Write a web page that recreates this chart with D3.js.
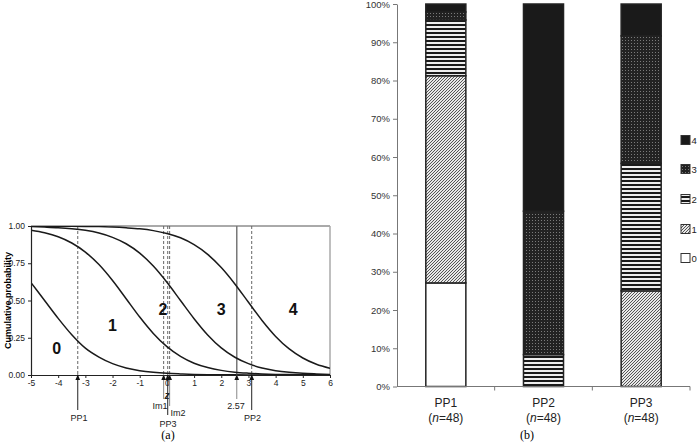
<!DOCTYPE html>
<html><head><meta charset="utf-8">
<script src="https://cdn.jsdelivr.net/npm/d3@7"></script>
<style>
body{margin:0;background:#fff;}
svg{display:block;font-family:"Liberation Sans",Arial,sans-serif;}
</style></head>
<body>
<svg id="c" width="697" height="444"></svg>
<script>
// ---------- Panel (a) data ----------
const zGrid = [-5,-4.5,-4,-3.5,-3,-2.5,-2,-1.5,-1,-0.5,0,0.5,1,1.5,2,2.5,3,3.5,4,4.5,5,5.5,6];
const curve0 = [0.62,0.50,0.38,0.27,0.18,0.12,0.076,0.047,0.029,0.018,0.011,0.007,0.004,0.0025,0.0015,0.001,0.0006,0.0004,0.0002,0.0001,0.0001,0,0];
const curve1 = [0.972,0.955,0.928,0.886,0.825,0.741,0.634,0.512,0.389,0.279,0.190,0.125,0.079,0.050,0.031,0.019,0.012,0.007,0.004,0.003,0.002,0.001,0.001];
const curve2 = [0.996,0.993,0.989,0.982,0.971,0.953,0.924,0.881,0.818,0.731,0.622,0.500,0.378,0.269,0.182,0.119,0.076,0.047,0.029,0.018,0.011,0.007,0.004];
const curve3 = [1.0,0.999,0.999,0.998,0.997,0.996,0.993,0.988,0.981,0.969,0.950,0.921,0.875,0.810,0.721,0.611,0.488,0.366,0.259,0.175,0.114,0.072,0.045];
const xTicksA = [-5,-4,-3,-2,-1,0,1,2,3,4,5,6];
const yTicksA = [0,0.25,0.5,0.75,1];
const regionLabels = ["0","1","2","3","4"];
const regionZ = [-4.05,-2.0,-0.15,2.0,4.65];
const regionP = [0.18,0.33,0.44,0.44,0.44];
const markNames = ["PP1","Im1","PP3","Im2","2.57","PP2"];
const markZ = [-3.28,-0.12,0.03,0.10,2.57,3.12];

// ---------- Panel (b) data ----------
const groups = ["PP1","PP2","PP3"];
const groupN = [48,48,48];
const levels = ["0","1","2","3","4"];
const pct0 = [27.08,0,0];
const pct1 = [54.17,0,25.00];
const pct2 = [14.58,8.33,33.33];
const pct3 = [2.08,37.50,33.33];
const pct4 = [2.08,54.17,8.33];
const yTicksB = [0,10,20,30,40,50,60,70,80,90,100];

const svg = d3.select("#c");
const defs = svg.append("defs");

// patterns
const pHatch = defs.append("pattern").attr("id","p1").attr("patternUnits","userSpaceOnUse").attr("width",3).attr("height",3);
pHatch.append("rect").attr("width",3).attr("height",3).attr("fill","#e8e8e8");
pHatch.append("path").attr("d","M-1,1 L1,-1 M0,3 L3,0 M2,4 L4,2").attr("stroke","#444").attr("stroke-width",0.9);
const pStripe = defs.append("pattern").attr("id","p2").attr("patternUnits","userSpaceOnUse").attr("width",4).attr("height",4);
pStripe.append("rect").attr("width",4).attr("height",4).attr("fill","#eeeeee");
pStripe.append("rect").attr("width",4).attr("height",2).attr("fill","#1a1a1a");
const pDots = defs.append("pattern").attr("id","p3").attr("patternUnits","userSpaceOnUse").attr("width",3).attr("height",3);
pDots.append("rect").attr("width",3).attr("height",3).attr("fill","#222");
pDots.append("rect").attr("x",1).attr("y",1).attr("width",1).attr("height",1).attr("fill","#7a7a7a");
const fills = ["#ffffff","url(#p1)","url(#p2)","url(#p3)","#1a1a1a"];

defs.append("marker").attr("id","arr").attr("viewBox","0 0 6 7").attr("refX",3).attr("refY",0)
  .attr("markerWidth",5).attr("markerHeight",6).attr("orient","0").attr("markerUnits","userSpaceOnUse")
  .append("path").attr("d","M0,7 L3,0 L6,7 Z").attr("fill","#111");

// ================= Panel (a) =================
const xA = d3.scaleLinear().domain([-5,6]).range([31,330]);
const yA = d3.scaleLinear().domain([0,1]).range([375,226]);
const gA = svg.append("g");

defs.append("clipPath").attr("id","clipA").append("rect")
  .attr("x",xA(-5)).attr("y",yA(1)).attr("width",xA(6)-xA(-5)).attr("height",yA(0)-yA(1));

// border
gA.append("line").attr("x1",xA(-5)).attr("x2",xA(6)).attr("y1",yA(1)).attr("y2",yA(1)).attr("stroke","#555").attr("stroke-width",1);
gA.append("line").attr("x1",xA(6)).attr("x2",xA(6)).attr("y1",yA(1)).attr("y2",yA(0)).attr("stroke","#aaa").attr("stroke-width",1.5);

// vertical lines
markNames.forEach((n,i)=>{
  const solid = n==="2.57";
  gA.append("line").attr("x1",xA(markZ[i])).attr("x2",xA(markZ[i]))
    .attr("y1",yA(1)).attr("y2",yA(0))
    .attr("stroke", solid?"#777":"#666").attr("stroke-width", solid?1.5:1)
    .attr("stroke-dasharray", solid?null:"3,2");
});

// curves
const lineA = d3.line().x((d,i)=>xA(zGrid[i])).y(d=>yA(d)).curve(d3.curveMonotoneX);
[curve0,curve1,curve2,curve3].forEach(c=>{
  gA.append("path").datum(c).attr("d",lineA).attr("fill","none")
    .attr("stroke","#1a1a1a").attr("stroke-width",1.5).attr("clip-path","url(#clipA)");
});

// axes
const axL = gA.append("g").attr("transform",`translate(${xA(-5)},0)`)
  .call(d3.axisLeft(yA).tickValues(yTicksA).tickFormat(d3.format(".2f")).tickSize(3).tickSizeOuter(0));
axL.selectAll("text").attr("font-size",8.5).attr("fill","#222");
const axB = gA.append("g").attr("transform",`translate(0,${yA(0)})`)
  .call(d3.axisBottom(xA).tickValues(xTicksA).tickFormat(d3.format("d")).tickSize(3).tickSizeOuter(0));
axB.selectAll("text").attr("font-size",8.5).attr("fill","#222").attr("dy","0.55em");
[axL,axB].forEach(a=>{a.select(".domain").attr("stroke","#222").attr("stroke-width",1.2);a.selectAll(".tick line").attr("stroke","#222");});
axB.selectAll(".tick text").text(d=>d<0?"-"+Math.abs(d):d);

// region labels
regionLabels.forEach((t,i)=>{
  gA.append("text").attr("x",xA(regionZ[i])).attr("y",yA(regionP[i])).attr("text-anchor","middle")
    .attr("dominant-baseline","central").attr("font-size",16).attr("font-weight","bold").attr("fill","#111").text(t);
});

// y title
gA.append("text").attr("transform",`translate(8,${(yA(0)+yA(1))/2}) rotate(-90)`).attr("text-anchor","middle")
  .attr("dominant-baseline","central").attr("font-size",9).attr("font-weight","bold").text("Cumulative probability");

// arrows and labels below axis
const arrowEnd = {"PP1":410,"Im1":399,"PP3":415,"Im2":406,"2.57":399,"PP2":410};
const labelPos = {"PP1":[79,418],"Im1":[160,406],"PP3":[168,423.5],"Im2":[178,413],"2.57":[236,406],"PP2":[252.5,418]};
markNames.forEach((n,i)=>{
  gA.append("line").attr("x1",xA(markZ[i])).attr("x2",xA(markZ[i]))
    .attr("y1",arrowEnd[n]).attr("y2",yA(0)-0.5)
    .attr("stroke",(n==="PP1"||n==="PP2"||n==="PP3")?"#222":"#888").attr("stroke-width",1)
    .attr("marker-end","url(#arr)");
  gA.append("text").attr("x",labelPos[n][0]).attr("y",labelPos[n][1]).attr("text-anchor","middle")
    .attr("dominant-baseline","central").attr("font-size",9).attr("fill","#222").text(n);
});
gA.append("text").attr("x",xA(0)).attr("y",395).attr("text-anchor","middle").attr("dominant-baseline","central")
  .attr("font-size",10).attr("font-style","italic").attr("font-weight","bold").attr("fill","#222").text("z");
gA.append("text").attr("x",168).attr("y",435).attr("text-anchor","middle").attr("dominant-baseline","central")
  .attr("font-family","'Liberation Serif',serif").attr("font-size",12).text("(a)");

// ================= Panel (b) =================
const xB = d3.scaleBand().domain(groups).range([397,690]).paddingInner(0.59).paddingOuter(0.295);
const yB = d3.scaleLinear().domain([0,100]).range([386.5,4]);
const gB = svg.append("g");
const rows = groups.map((g,i)=>({group:g,"0":pct0[i],"1":pct1[i],"2":pct2[i],"3":pct3[i],"4":pct4[i]}));
const stack = d3.stack().keys(levels)(rows);

stack.forEach((layer,li)=>{
  gB.selectAll(null).data(layer.filter(d=>d[1]-d[0]>0)).enter().append("rect")
    .attr("x",d=>xB(d.data.group)).attr("width",xB.bandwidth())
    .attr("y",d=>yB(d[1])).attr("height",d=>yB(d[0])-yB(d[1]))
    .attr("fill",fills[li]).attr("stroke","#222").attr("stroke-width",1.5);
});

const axLB = gB.append("g").attr("transform","translate(397,0)")
  .call(d3.axisLeft(yB).tickValues(yTicksB).tickFormat(d=>d+"%").tickSize(4).tickSizeOuter(0));
axLB.selectAll("text").attr("font-size",9.5).attr("fill","#333");
axLB.select(".domain").attr("stroke","#777");
axLB.selectAll(".tick line").attr("stroke","#777");
// x axis line with category-boundary ticks
gB.append("line").attr("x1",397).attr("x2",690).attr("y1",yB(0)).attr("y2",yB(0)).attr("stroke","#777");
groups.forEach((g,i)=>{
  const xe = xB(g)+xB.bandwidth()/2 + xB.step()/2;
  gB.append("line").attr("x1",xe).attr("x2",xe).attr("y1",yB(0)).attr("y2",yB(0)+4).attr("stroke","#777");
  const cx = xB(g)+xB.bandwidth()/2;
  gB.append("text").attr("x",cx).attr("y",403).attr("text-anchor","middle").attr("dominant-baseline","central")
    .attr("font-size",12).attr("fill","#222").text(g);
  const t = gB.append("text").attr("x",cx).attr("y",417.5).attr("text-anchor","middle").attr("dominant-baseline","central")
    .attr("font-size",12).attr("fill","#222");
  t.append("tspan").text("(");
  t.append("tspan").attr("font-style","italic").text("n");
  t.append("tspan").text("="+groupN[i]+")");
});
gB.append("text").attr("x",527).attr("y",435).attr("text-anchor","middle").attr("dominant-baseline","central")
  .attr("font-family","'Liberation Serif',serif").attr("font-size",12).text("(b)");

// legend
const legY = [258,229,199,169,140];
levels.forEach((l,i)=>{
  gB.append("rect").attr("x",681).attr("y",legY[i]-4.5).attr("width",9).attr("height",9)
    .attr("fill",fills[i]).attr("stroke","#333").attr("stroke-width",1);
  gB.append("text").attr("x",691.5).attr("y",legY[i]).attr("dominant-baseline","central")
    .attr("font-size",9.5).attr("fill","#222").text(l);
});
</script>
</body></html>
